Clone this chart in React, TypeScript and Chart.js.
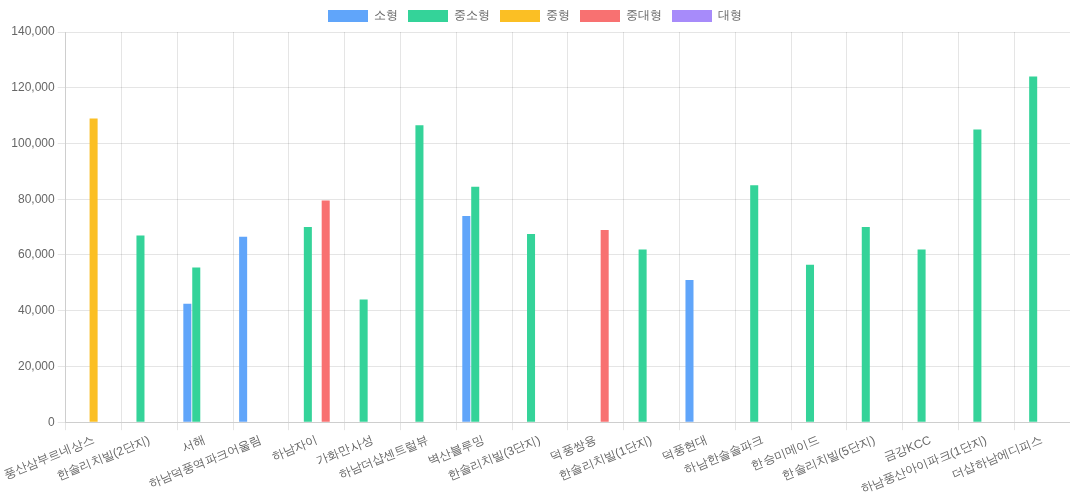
import { Chart, registerables } from 'chart.js';
import { useEffect, useRef } from 'react';

Chart.register(...registerables);

const categories = [
  '풍산삼부르네상스', '한솔리치빌(2단지)', '서해', '하남덕풍역파크어울림', '하남자이', '가화만사성',
  '하남더샵센트럴뷰', '벽산블루밍', '한솔리치빌(3단지)', '덕풍쌍용', '한솔리치빌(1단지)', '덕풍현대',
  '하남한솔솔파크', '한승미메이드', '한솔리치빌(5단지)', '금강KCC', '하남풍산아이파크(1단지)', '더샵하남에디피스',
];
const small = [null, null, 42500, 66500, null, null, null, 74000, null, null, null, 51000, null, null, null, null, null, null];
const smallMid = [null, 67000, 55500, null, 70000, 44000, 106500, 84500, 67500, null, 62000, null, 85000, 56500, 70000, 62000, 105000, 124000];
const mid = [109000, null, null, null, null, null, null, null, null, null, null, null, null, null, null, null, null, null];
const midLarge = [null, null, null, null, 79500, null, null, null, null, 69000, null, null, null, null, null, null, null, null];
const large = categories.map(() => null);

export default function App() {
  const canvasRef = useRef<HTMLCanvasElement>(null);
  useEffect(() => {
    document.body.style.margin = '0';
    if (!canvasRef.current) return;
    const chart = new Chart(canvasRef.current, {
      type: 'bar',
      data: {
        labels: categories,
        datasets: [
          { label: '소형', data: small, backgroundColor: '#60a5fa' },
          { label: '중소형', data: smallMid, backgroundColor: '#34d399' },
          { label: '중형', data: mid, backgroundColor: '#fbbf24' },
          { label: '중대형', data: midLarge, backgroundColor: '#f87171' },
          { label: '대형', data: large, backgroundColor: '#a78bfa' },
        ],
      },
      options: {
        animation: false,
        responsive: true,
        maintainAspectRatio: false,
        font: { family: 'Noto Sans CJK KR' },
        plugins: { legend: { position: 'top' }, tooltip: { enabled: false } },
        scales: {
          x: { ticks: { autoSkip: false, maxRotation: 22, minRotation: 22 } },
          y: { min: 0, max: 140000, ticks: { stepSize: 20000 } },
        },
      },
    });
    return () => chart.destroy();
  }, []);
  return (
    <div style={{ width: 1070, height: 500 }}>
      <canvas ref={canvasRef} />
    </div>
  );
}
